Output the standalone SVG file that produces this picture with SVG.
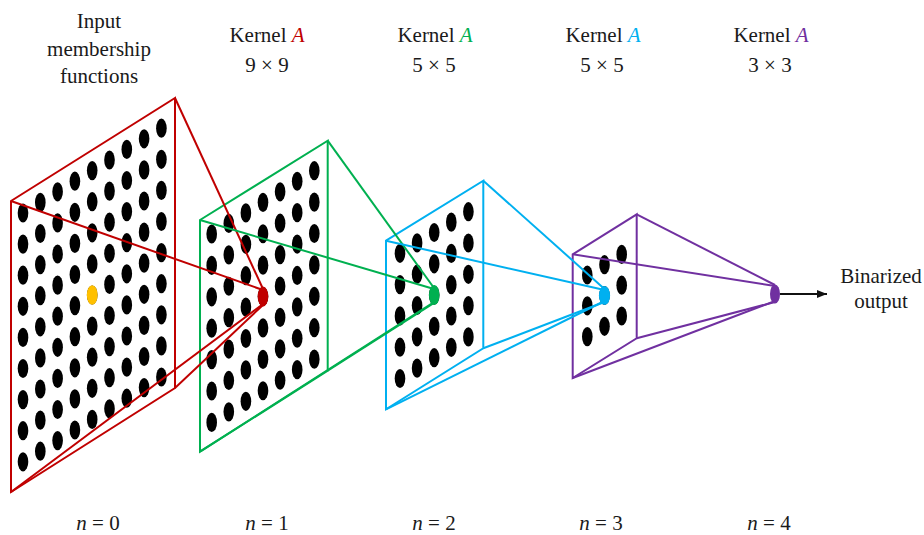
<svg xmlns="http://www.w3.org/2000/svg" xmlns:xlink="http://www.w3.org/1999/xlink" width="924" height="535" viewBox="0 0 924 535">
<style>
.t{font-family:'Liberation Serif',serif;font-size:21px;fill:#1a1a1a;text-anchor:middle}
.i{font-style:italic}
.fr{fill:none;stroke-width:2;stroke-linejoin:miter}
.cn line{stroke-width:2}
.red{stroke:#C00000}.grn{stroke:#00B050}.blu{stroke:#00B0F0}.pur{stroke:#7030A0}
</style>
<defs>
<ellipse id="d" cx="0" cy="0" rx="5.3" ry="9.6" fill="#000"/>
<g id="c9"><use href="#d" y="0"/><use href="#d" y="31.1"/><use href="#d" y="62.2"/><use href="#d" y="93.3"/><use href="#d" y="124.4"/><use href="#d" y="155.5"/><use href="#d" y="186.6"/><use href="#d" y="217.7"/><use href="#d" y="248.8"/></g>
<g id="c7"><use href="#d" y="0"/><use href="#d" y="31.4"/><use href="#d" y="62.8"/><use href="#d" y="94.2"/><use href="#d" y="125.6"/><use href="#d" y="157"/><use href="#d" y="188.4"/></g>
<g id="c5"><use href="#d" y="0"/><use href="#d" y="31.3"/><use href="#d" y="62.6"/><use href="#d" y="93.9"/><use href="#d" y="125.2"/></g>
<g id="c3"><use href="#d" y="0"/><use href="#d" y="30.8"/><use href="#d" y="61.6"/></g>
<marker id="ah" viewBox="0 0 10 10" refX="10" refY="5" markerWidth="10" markerHeight="10" markerUnits="userSpaceOnUse" orient="auto"><path d="M0,1 L10,5 L0,9 z" fill="#111"/></marker>
</defs>

<g id="layer0">
<polygon class="fr red" points="11,201 175,98 175,388 11,492"/>
<use href="#c9" x="23" y="213"/><use href="#c9" x="40.3" y="202.4"/><use href="#c9" x="57.6" y="191.8"/><use href="#c9" x="74.9" y="181.2"/><use href="#c9" x="92.2" y="170.6"/><use href="#c9" x="109.5" y="160"/><use href="#c9" x="126.8" y="149.4"/><use href="#c9" x="144.1" y="138.8"/><use href="#c9" x="161.4" y="128.2"/>
<ellipse cx="92.2" cy="295" rx="5.4" ry="9.8" fill="#FFC000"/>
</g>

<g id="layer1">
<polygon class="fr grn" points="200,220 327.7,140.7 327.7,370.7 200,451.7"/>
<use href="#c7" x="211.7" y="234"/><use href="#c7" x="228.8" y="223.45"/><use href="#c7" x="245.9" y="212.9"/><use href="#c7" x="263" y="202.35"/><use href="#c7" x="280.1" y="191.8"/><use href="#c7" x="297.2" y="181.25"/><use href="#c7" x="314.3" y="170.7"/>
</g>

<g id="layer2">
<polygon class="fr blu" points="386,240.7 483.3,180.7 483.3,348.3 386,409.3"/>
<use href="#c5" x="400" y="253.3"/><use href="#c5" x="417.1" y="242.9"/><use href="#c5" x="434.2" y="232.5"/><use href="#c5" x="451.3" y="222.1"/><use href="#c5" x="468.4" y="211.7"/>
</g>

<g id="layer3">
<polygon class="fr pur" points="572.7,254.3 636.7,214.3 636.7,338.3 572.7,378"/>
<use href="#c3" x="587.3" y="275"/><use href="#c3" x="604.5" y="264.7"/><use href="#c3" x="621.7" y="254.4"/>
</g>

<g id="connectors" class="cn">
<line class="red" x1="11" y1="201" x2="263" y2="290"/>
<line class="red" x1="175" y1="98" x2="263" y2="289"/>
<line class="red" x1="175" y1="388" x2="263" y2="305"/>
<line class="red" x1="11" y1="492" x2="263" y2="304"/>
<line class="grn" x1="200" y1="220" x2="434" y2="289"/>
<line class="grn" x1="327.7" y1="140.7" x2="434" y2="288"/>
<line class="grn" x1="327.7" y1="370.7" x2="434" y2="303"/>
<line class="grn" x1="200" y1="451.7" x2="434" y2="302"/>
<line class="blu" x1="386" y1="240.7" x2="604.5" y2="290"/>
<line class="blu" x1="483.3" y1="180.7" x2="604.5" y2="289"/>
<line class="blu" x1="483.3" y1="348.3" x2="604.5" y2="302"/>
<line class="blu" x1="386" y1="409.3" x2="604.5" y2="301"/>
<line class="pur" x1="572.7" y1="254.3" x2="775" y2="286"/>
<line class="pur" x1="636.7" y1="214.3" x2="775" y2="285"/>
<line class="pur" x1="636.7" y1="338.3" x2="775" y2="302"/>
<line class="pur" x1="572.7" y1="378" x2="775" y2="301"/>
<line x1="780" y1="294" x2="827" y2="294" stroke="#111" stroke-width="2" marker-end="url(#ah)"/>
</g>

<g id="k1"><ellipse cx="263" cy="296.5" rx="5.3" ry="10" fill="#C00000"/></g>
<g id="k2"><ellipse cx="434.2" cy="295.1" rx="5.3" ry="10" fill="#00B050"/></g>
<g id="k3"><ellipse cx="604.5" cy="295.5" rx="5.6" ry="9.6" fill="#00B0F0"/></g>
<g id="k4"><ellipse cx="775" cy="294" rx="5" ry="9.6" fill="#7030A0"/></g>

<g id="labels" font-family="Liberation Serif, serif" font-size="21">
<text class="t" x="99" y="27.5">Input</text>
<text class="t" x="99" y="55.5">membership</text>
<text class="t" x="99" y="83">functions</text>
<text class="t" x="267" y="41.7">Kernel <tspan class="i" fill="#C00000">A</tspan></text>
<text class="t" x="435" y="41.7">Kernel <tspan class="i" fill="#00B050">A</tspan></text>
<text class="t" x="603" y="41.7">Kernel <tspan class="i" fill="#00B0F0">A</tspan></text>
<text class="t" x="771" y="41.7">Kernel <tspan class="i" fill="#7030A0">A</tspan></text>
<text class="t" x="267" y="71.7">9 × 9</text>
<text class="t" x="434" y="71.7">5 × 5</text>
<text class="t" x="602" y="71.7">5 × 5</text>
<text class="t" x="770" y="71.7">3 × 3</text>
<text class="t" x="881" y="283.3">Binarized</text>
<text class="t" x="881" y="307.7">output</text>
<text class="t" x="98" y="529.5"><tspan class="i">n</tspan> = 0</text>
<text class="t" x="267" y="529.5"><tspan class="i">n</tspan> = 1</text>
<text class="t" x="434" y="529.5"><tspan class="i">n</tspan> = 2</text>
<text class="t" x="601" y="529.5"><tspan class="i">n</tspan> = 3</text>
<text class="t" x="769" y="529.5"><tspan class="i">n</tspan> = 4</text>
</g>
</svg>
